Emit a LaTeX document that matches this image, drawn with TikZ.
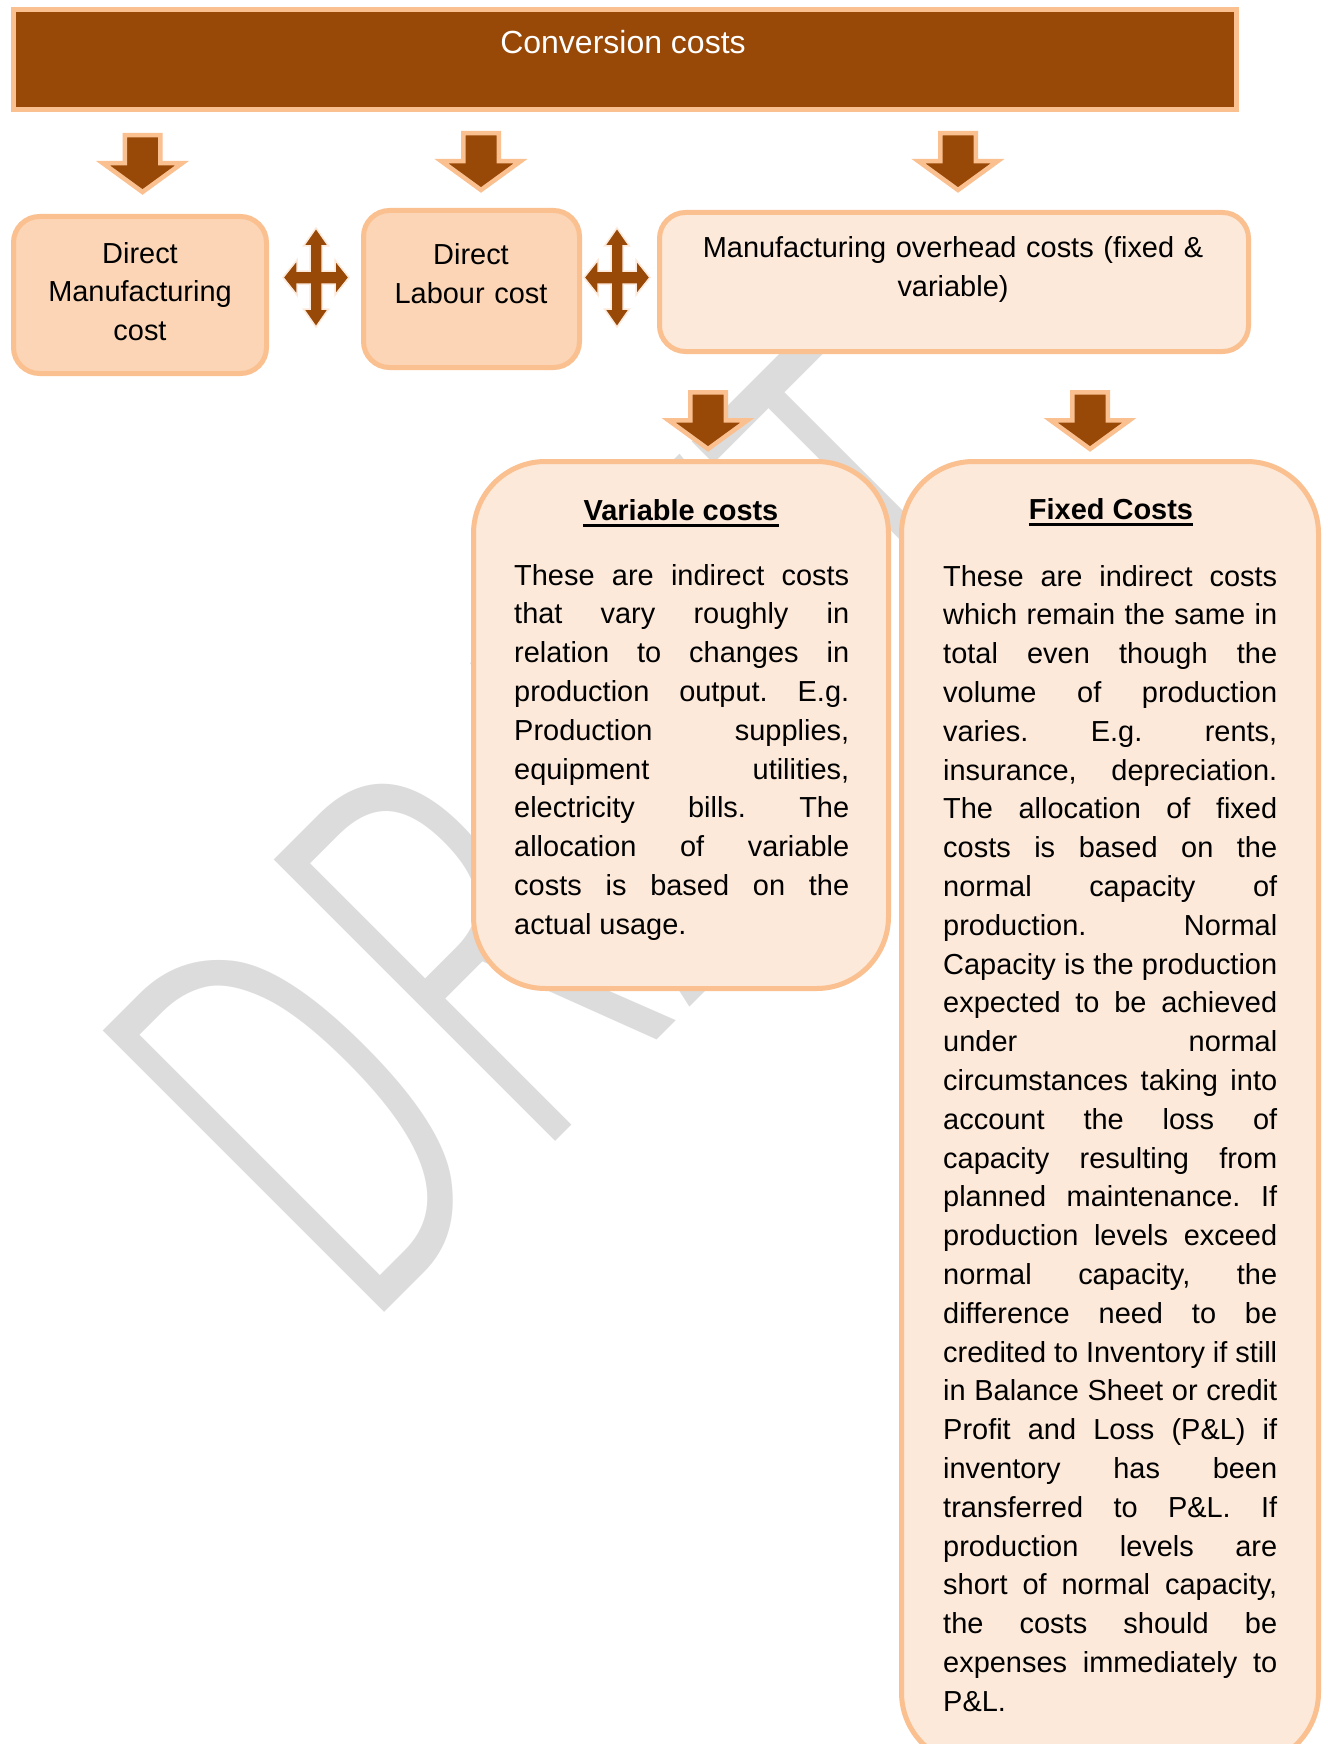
\documentclass[tikz,border=0pt]{standalone}
\usepackage{fontspec}
\usepackage{graphicx}
\setmainfont{Liberation Sans}
\IfFontExistsTF{Fira Sans Light}{\newfontfamily\wmfam{Fira Sans Light}}{\newfontfamily\wmfam{Liberation Sans}}
\definecolor{brownA}{HTML}{984807}
\definecolor{orangeB}{HTML}{FAC090}
\definecolor{peachC}{HTML}{FBD5B5}
\definecolor{paleD}{HTML}{FDE9D9}
\definecolor{wmgray}{RGB}{220,220,220}
\newcommand\bodyfont{\fontsize{28.95pt}{38.8pt}\selectfont}
\newcommand\headfont{\fontsize{32pt}{38pt}\selectfont}
\newcommand\wmfont{\wmfam\fontsize{578pt}{600pt}\selectfont}
\newcommand\justset{\noindent\frenchspacing\spaceskip=0.278em plus 30em minus 0.06em\relax\tolerance=10000\hyphenpenalty=10000\relax}
\tikzset{
  downblock/.pic={\draw[blockarrow] (-17.75,-2.25) -- (17.75,-2.25) -- (17.75,-30.25) -- (39.5,-30.25) -- (0,-59) -- (-39.5,-30.25) -- (-17.75,-30.25) -- cycle;},
  quadblock/.pic={\draw[quadarrow] (0,49.5) -- (12.5,31.5) -- (6,31.5) -- (6,6.5) -- (19,6.5) -- (19,17.5) -- (33,0) -- (19,-17.5) -- (19,-6.5) -- (6,-6.5) -- (6,-31.5) -- (12.5,-31.5) -- (0,-49.5) -- (-12.5,-31.5) -- (-6,-31.5) -- (-6,-6.5) -- (-19,-6.5) -- (-19,-17.5) -- (-33,0) -- (-19,17.5) -- (-19,6.5) -- (-6,6.5) -- (-6,31.5) -- (-12.5,31.5) -- cycle;}
}
\begin{document}
\begin{tikzpicture}[x=1pt,y=1pt,
  cbox/.style={draw=orangeB, line width=5pt, rounded corners=26pt, inner sep=0pt},
  bigbox/.style={draw=orangeB, line width=5pt, rounded corners=72pt, fill=paleD, inner sep=0pt},
  txt/.style={inner sep=0pt, font=\bodyfont, text=black},
  blockarrow/.style={fill=brownA, draw=orangeB, line width=4.5pt, line join=miter},
  quadarrow/.style={fill=brownA, draw=paleD, line width=1.5pt, line join=miter}]
\useasboundingbox (0,0) rectangle (1327,-1744);
\clip (0,0) rectangle (1327,-1744);
\fill[white] (0,0) rectangle (1327,-1744);

% watermark
\node[text=wmgray, font=\wmfont, inner sep=0pt, anchor=base west, rotate=45] (draft) at (354,-1343) {\resizebox{1060pt}{398pt}{DRAFT}};

% banner
\node[draw=orangeB, line width=5pt, fill=brownA, minimum width=1223.5pt, minimum height=100pt, inner sep=0pt] (conv) at (624.75,-59.5) {};
\node[font=\headfont, text=white, anchor=base, inner sep=0pt] (convtext) at (623,-54) {Conversion costs};

% first-level arrows
\pic at (142.5,-133) {downblock};
\pic at (481,-131) {downblock};
\pic at (958,-131) {downblock};

% second row boxes
\node[cbox, fill=peachC, minimum width=253pt, minimum height=157pt] (dmc) at (140,-295) {};
\node[cbox, fill=peachC, minimum width=216pt, minimum height=157pt] (dlc) at (471.5,-289) {};
\node[cbox, fill=paleD, minimum width=589pt, minimum height=139pt] (moh) at (954,-282) {};

\node[txt, anchor=base, text width=250pt, align=center] (dmct) at (140,-263) {Direct\\Manufacturing\\cost};
\node[txt, anchor=base, text width=214pt, align=center] (dlct) at (471,-265) {Direct\\Labour cost};
\node[txt, anchor=base, text width=585pt, align=center] (moht) at (953,-258) {Manufacturing overhead costs (fixed \&\\variable)};

% four-way arrows
\pic at (316,-277.5) {quadblock};
\pic at (617,-277.5) {quadblock};

% second-level arrows
\pic at (708,-390) {downblock};
\pic at (1090,-390) {downblock};

% lower boxes
\node[bigbox, minimum width=415pt, minimum height=527pt] (var) at (681,-725) {};
\node[bigbox, minimum width=417pt, minimum height=1303pt] (fix) at (1110,-1113) {};

\node[txt, font=\bodyfont\bfseries, anchor=base] (vtitle) at (681,-520) {Variable costs};
\draw[line width=2.6pt] ([yshift=-5.5pt]vtitle.base west) -- ([yshift=-5.5pt]vtitle.base east);
\node[txt, font=\bodyfont\bfseries, anchor=base] (ftitle) at (1111,-519) {Fixed Costs};
\draw[line width=2.6pt] ([yshift=-5.5pt]ftitle.base west) -- ([yshift=-5.5pt]ftitle.base east);

\node[txt, anchor=base west, text width=335pt, align=justify] (vbody) at (514,-585) {\justset These are indirect costs\linebreak that vary roughly in\linebreak relation to changes in\linebreak production output. E.g.\linebreak Production supplies,\linebreak equipment utilities,\linebreak electricity bills. The\linebreak allocation of variable\linebreak costs is based on the\linebreak actual usage.};

\node[txt, anchor=base west, text width=334pt, align=justify] (fbody) at (943,-586) {\justset These are indirect costs\linebreak which remain the same in\linebreak total even though the\linebreak volume of production\linebreak varies. E.g. rents,\linebreak insurance, depreciation.\linebreak The allocation of fixed\linebreak costs is based on the\linebreak normal capacity of\linebreak production. Normal\linebreak Capacity is the production\linebreak expected to be achieved\linebreak under normal\linebreak circumstances taking into\linebreak account the loss of\linebreak capacity resulting from\linebreak planned maintenance. If\linebreak production levels exceed\linebreak normal capacity, the\linebreak difference need to be\linebreak credited to Inventory if still\linebreak in Balance Sheet or credit\linebreak Profit and Loss (P\&L) if\linebreak inventory has been\linebreak transferred to P\&L. If\linebreak production levels are\linebreak short of normal capacity,\linebreak the costs should be\linebreak expenses immediately to\linebreak P\&L.};
\end{tikzpicture}
\end{document}
